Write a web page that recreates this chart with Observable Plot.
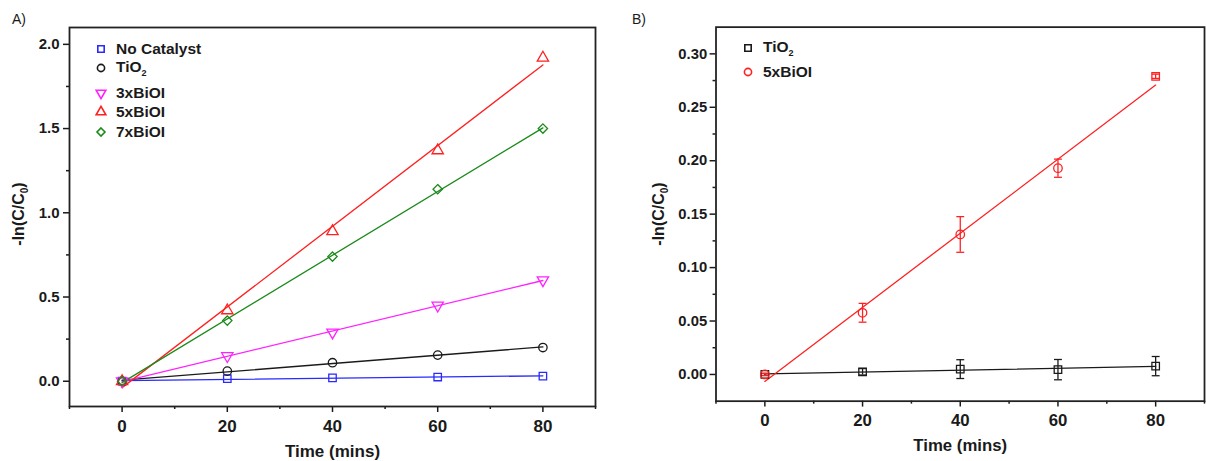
<!DOCTYPE html>
<html><head><meta charset="utf-8">
<script src="https://cdn.jsdelivr.net/npm/d3@7"></script>
<script src="https://cdn.jsdelivr.net/npm/@observablehq/plot@0.6"></script>
<style>
html,body{margin:0;padding:0;background:#fff;overflow:hidden;}
#wrap{position:relative;width:1206px;height:461px;overflow:hidden;font-family:"Liberation Sans",Arial,sans-serif;color:#1a1a1a;}
.panel{position:absolute;top:0;}
.plabel{position:absolute;font-size:14px;line-height:14px;}
.ylab{position:absolute;font-weight:bold;font-size:16px;white-space:nowrap;transform:translate(-50%,-50%) rotate(-90deg);}
.ylab sub{font-size:10px;}
.legend{position:absolute;font-weight:bold;font-size:15.5px;}
.legend .row{display:flex;align-items:center;height:19.5px;}
.legend .row svg{width:14px;height:14px;margin-right:8px;overflow:visible;}
.legend sub{font-size:9px;}
</style>
</head><body>
<div id="wrap">
  <div class="panel" id="pa" style="left:0"></div>
  <div class="panel" id="pb" style="left:603px"></div>
  <div class="plabel" style="left:12px;top:12px">A)</div>
  <div class="plabel" style="left:632px;top:12px">B)</div>
  <div class="ylab" style="left:20px;top:214px">-ln(C/C<sub>0</sub>)</div>
  <div class="ylab" style="left:660px;top:214px">-ln(C/C<sub>0</sub>)</div>
  <div class="legend" id="lega" style="left:94px;top:39px"></div>
  <div class="legend" id="legb" style="left:741px;top:38px"></div>
</div>
<script>
// ---------- Data: panel A ----------
const timeMins = [0, 20, 40, 60, 80];
const seriesA = ["No Catalyst", "TiO2", "3xBiOI", "5xBiOI", "7xBiOI"];
const noCatalyst = [0, 0.015, 0.02, 0.025, 0.03];
const tio2A      = [0, 0.06, 0.11, 0.155, 0.20];
const bioi3x     = [0, 0.15, 0.29, 0.45, 0.60];
const bioi5x     = [0, 0.42, 0.89, 1.37, 1.92];
const bioi7x     = [0, 0.36, 0.74, 1.14, 1.50];
const valuesA = [noCatalyst, tio2A, bioi3x, bioi5x, bioi7x];

// ---------- Data: panel B ----------
const seriesB = ["TiO2", "5xBiOI"];
const tio2B      = [0, 0.0025, 0.005, 0.0045, 0.0078];
const tio2BErr   = [0.001, 0.003, 0.0088, 0.0095, 0.009];
const bioi5xB    = [0, 0.0577, 0.131, 0.193, 0.279];
const bioi5xBErr = [0.001, 0.0088, 0.0167, 0.0085, 0.002];

// ---------- Styles ----------
const colorsA  = ["#2a2aff", "#1a1a1a", "#ff22ff", "#ff2020", "#1a8a1a"];
const symbolsA = ["square", "circle", "triangle", "triangle", "diamond2"];
const rotateA  = [0, 0, 180, 0, 0];
const colorsB  = ["#1a1a1a", "#ff2020"];
const symbolsB = ["square", "circle"];
const bioiBPointSymbol = ["circle", "circle", "circle", "circle", "square"];

const rowsA = [];
seriesA.forEach((s, i) => timeMins.forEach((t, j) => rowsA.push({series: s, t, v: valuesA[i][j], rot: rotateA[i]})));
const rowsB = [];
timeMins.forEach((t, j) => rowsB.push({series: "TiO2", t, v: tio2B[j], e: tio2BErr[j], sym: "square"}));
timeMins.forEach((t, j) => rowsB.push({series: "5xBiOI", t, v: bioi5xB[j], e: bioi5xBErr[j], sym: bioiBPointSymbol[j]}));

const capSymbol = {draw(ctx, size) { const w = Math.sqrt(size / Math.PI); ctx.moveTo(-w, 0); ctx.lineTo(w, 0); }};

const baseStyle = {fontFamily: "Liberation Sans, Arial, sans-serif", fontSize: "15px", fontWeight: "bold", color: "#1a1a1a", background: "transparent", overflow: "visible"};
const axisCommon = {tickSize: 6, strokeWidth: 1.5};

const plotA = Plot.plot({
  width: 603, height: 461,
  marginTop: 27, marginBottom: 55, marginLeft: 69, marginRight: 8,
  style: baseStyle,
  x: {domain: [-10, 90]},
  y: {domain: [-0.15, 2.1]},
  color: {domain: seriesA, range: colorsA},
  symbol: {domain: seriesA, range: symbolsA},
  marks: [
    Plot.axisX([0, 20, 40, 60, 80], {...axisCommon, tickPadding: 7, label: "Time (mins)", labelAnchor: "center", labelArrow: "none", labelOffset: 50, fontSize: 17}),
    Plot.axisX([-10, 10, 30, 50, 70, 90], {tickSize: 3, strokeWidth: 1.5, text: null, label: null}),
    Plot.axisY([0, 0.5, 1, 1.5, 2], {...axisCommon, tickPadding: 4, tickFormat: ".1f", label: null}),
    Plot.axisY([0.25, 0.75, 1.25, 1.75], {tickSize: 3, strokeWidth: 1.5, text: null, label: null}),
    Plot.linearRegressionY(rowsA, {x: "t", y: "v", stroke: "series", ci: 0, strokeWidth: 1.3}),
    Plot.dot(rowsA, {x: "t", y: "v", stroke: "series", symbol: "series", rotate: "rot", r: 4.2, strokeWidth: 1.3, fill: "none"}),
    Plot.frame({stroke: "#222", strokeWidth: 1.8})
  ]
});
document.getElementById("pa").appendChild(plotA);

const plotB = Plot.plot({
  width: 611, height: 461,
  marginTop: 27, marginBottom: 55, marginLeft: 114, marginRight: 2,
  style: baseStyle,
  x: {domain: [-10, 90]},
  y: {domain: [-0.025, 0.325]},
  color: {domain: seriesB, range: colorsB},
  marks: [
    Plot.axisX([0, 20, 40, 60, 80], {...axisCommon, tickPadding: 7, label: "Time (mins)", labelAnchor: "center", labelArrow: "none", labelOffset: 50, fontSize: 17}),
    Plot.axisX([-10, 10, 30, 50, 70, 90], {tickSize: 3, strokeWidth: 1.5, text: null, label: null}),
    Plot.axisY([0, 0.05, 0.1, 0.15, 0.2, 0.25, 0.3], {...axisCommon, tickPadding: 3, tickFormat: ".2f", label: null}),
    Plot.axisY([0.025, 0.075, 0.125, 0.175, 0.225, 0.275], {tickSize: 3, strokeWidth: 1.5, text: null, label: null}),
    Plot.linearRegressionY(rowsB, {x: "t", y: "v", stroke: "series", ci: 0, strokeWidth: 1.3}),
    Plot.ruleX(rowsB, {x: "t", y1: d => d.v - d.e, y2: d => d.v + d.e, stroke: "series", strokeWidth: 1.3}),
    Plot.dot(rowsB, {x: "t", y: d => d.v - d.e, stroke: "series", symbol: () => capSymbol, r: 4, strokeWidth: 1.3}),
    Plot.dot(rowsB, {x: "t", y: d => d.v + d.e, stroke: "series", symbol: () => capSymbol, r: 4, strokeWidth: 1.3}),
    Plot.dot(rowsB, {x: "t", y: "v", stroke: "series", symbol: "sym", r: 4.3, strokeWidth: 1.3, fill: "none"}),
    Plot.frame({stroke: "#222", strokeWidth: 1.8})
  ]
});
document.getElementById("pb").appendChild(plotB);

// ---------- Legends ----------
const d3Sym = {square: d3.symbolSquare, circle: d3.symbolCircle, triangle: d3.symbolTriangle, diamond2: d3.symbolDiamond2};
function legendRow(label, color, sym, rot, extra) {
  const path = d3.symbol(d3Sym[sym], 3.6 * 3.6 * Math.PI)();
  const html = label.replace("TiO2", "TiO<sub>2</sub>");
  return `<div class="row" style="${extra || ""}"><svg viewBox="-7 -7 14 14"><path d="${path}" transform="rotate(${rot})" fill="none" stroke="${color}" stroke-width="1.6"/></svg><span>${html}</span></div>`;
}
document.getElementById("lega").innerHTML = seriesA.map((s, i) =>
  legendRow(s, colorsA[i], symbolsA[i], rotateA[i], s === "TiO2" ? "margin-bottom:5px" : "")).join("");
document.getElementById("legb").innerHTML = seriesB.map((s, i) =>
  legendRow(s, colorsB[i], symbolsB[i], 0, s === "TiO2" ? "margin-bottom:5px" : "")).join("");
</script>
</body></html>
